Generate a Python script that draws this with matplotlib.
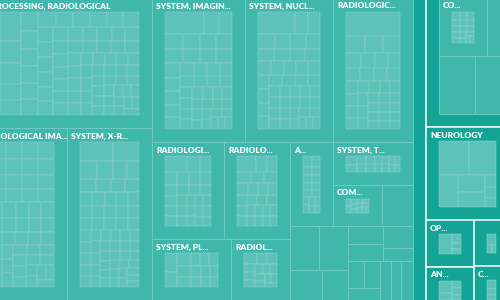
import matplotlib
matplotlib.use("Agg")
import matplotlib.pyplot as plt
from matplotlib.patches import Rectangle

# ---------------- data ----------------
# level-1 groups (only part of the full treemap is visible)
l1_names = ["", "", "NEUROLOGY", "OP...", "AN...", "", "C...", ""]
l1_values = [152327, 14872, 7760, 2232, 2208, 1593, 1645, 3906]

# children of the large radiology group (index 0)
rad_names = ["", "PROCESSING, RADIOLOGICAL", "RADIOLOGICAL IMA...", "SYSTEM, X-R...",
             "SYSTEM, IMAGIN...", "SYSTEM, NUCL...", "RADIOLOGIC...",
             "RADIOLOGI...", "RADIOLO...", "SYSTEM, PL...", "RADIOL...",
             "A...", "SYSTEM, T...", "COM...", "",
             "", "", "", "", "", "", "", "", "", "", "", "", "", ""]
rad_values = [1419, 21285, 15470, 14450, 13299, 12584, 11440, 6912, 6336, 4740, 3540,
              3569, 3360, 2009, 1271, 1247, 1247, 960, 780, 630, 560, 660, 360,
              432, 432, 384, 429, 390, 468]

# children of the group at the top right (index 1)
r1_names = ["CO...", "", "", ""]
r1_values = [2784, 1740, 2088, 2436]

# leaf values inside the labelled nodes
proc_cells = [420, 330, 300, 232, 224, 216, 209, 201, 194, 190, 185, 179, 176, 171, 168,
              165, 161, 158, 156, 153, 150, 148, 146, 143, 140, 138, 136, 133, 131, 129,
              127, 125, 123, 121, 120, 118, 116, 115, 113, 111, 110, 108, 107, 105, 104,
              102, 101, 99, 98, 96, 95, 93, 92, 90, 89, 87, 86, 84, 83, 81,
              80, 78, 77, 75, 74, 72, 71, 69, 68, 66, 65, 64, 63, 62, 61, 60]
radima_cells = [240, 232, 226, 221, 215, 210, 206, 202, 198, 195, 192, 188, 185, 182, 180,
                177, 174, 171, 169, 166, 163, 160, 158, 156, 153, 151, 148, 146, 143, 141,
                139, 137, 134, 132, 130, 128, 126, 124, 122, 120, 118, 116, 114, 112, 110,
                108, 106, 104, 102, 100]
xray_cells = [420, 210, 190, 175, 330, 150, 140, 134, 128, 124, 120, 117, 114, 111, 108,
              106, 104, 102, 100, 98, 96, 94, 92, 91, 89, 88, 86, 85, 83, 82, 80, 79,
              78, 76, 75, 74, 72, 71, 70, 69, 68, 66, 65, 64, 63, 62, 61, 60, 59, 58,
              57, 56, 55, 54, 53, 52, 51, 50, 49, 48]
imagin_cells = [820, 300, 280, 270, 260, 250, 240, 232, 226, 218, 212, 205, 198, 190, 182,
                176, 170, 164, 158, 152, 147, 142, 138, 134, 130, 126, 122, 119, 116, 113,
                110, 107, 104, 101, 98, 96, 94, 92, 90, 88, 86, 84, 82, 80, 78]
nucl_cells = [780, 290, 250, 232, 220, 210, 202, 195, 188, 182, 176, 170, 165, 160, 156,
              152, 148, 144, 140, 137, 134, 131, 128, 125, 122, 120, 118, 116, 114, 112,
              110, 108, 106, 104, 102, 100, 98, 96, 94, 92, 90, 88, 86, 84, 82]
radiologic_cells = [1450, 360, 340, 320, 260, 240, 225, 210, 200, 192, 185, 178, 172, 166,
                    160, 155, 150, 146, 142, 138, 134, 130, 127, 124, 121, 118, 115, 112,
                    110, 108, 105, 102, 100, 97, 95]
radiologi_cells = [330, 190, 170, 160, 152, 146, 140, 134, 128, 124, 120, 116, 112, 108,
                   104, 101, 98, 95, 92, 90, 88, 85, 82, 80, 78, 76]
radiolo_cells = [300, 180, 160, 150, 142, 136, 130, 124, 118, 114, 110, 106, 102, 98, 95,
                 92, 89, 86, 83, 80, 78, 76, 74, 72]
pl_cells = [260, 200, 180, 160, 150, 140, 130, 124, 118, 112, 106, 100, 94, 88]
radiol_cells = [150, 120, 110, 100, 95, 90, 86, 82, 78, 74, 70, 66, 62, 58]
a_cells = [70, 62, 58, 55, 52, 50, 48, 46, 44, 42, 40, 38, 36, 34, 32, 30]
t_cells = [120, 100, 95, 90, 86, 82, 78, 74, 70, 66, 62, 58, 54, 50]
com_cells = [40, 36, 34, 32, 30, 28, 27, 26, 25, 24, 23, 22]
co_cells = [48, 44, 42, 40, 38, 38, 36, 34, 34, 32, 30, 30, 28, 26, 24, 22]
neuro_cells = [990, 864, 580, 442, 416, 132, 120, 96]
op_cells = [260, 70, 60, 40]
an_cells = [150, 90, 60, 60, 40]
u_cells = [90, 40, 30]
c_cells = [80, 50, 40]

# ---------------- style ----------------
DARK = "#14a496"
MID = "#3fb7ab"
LIGHT = "#5dc3ba"
L1_EDGE = "#e8f7f5"
L2_EDGE = "#6fccc3"
CELL_EDGE = "#97d8d1"
FONT = ["Lato", "DejaVu Sans"]
PX = 0.72  # one pixel in points at 100 dpi

# layout structure: ('h' = side by side, 'v' = stacked), leaves are indices
l1_spec = ('h', [0, ('v', [1, ('h', [('v', [2, ('h', [('v', [3, 4]), ('v', [5, 6])])]), 7])])])
rad_spec = ('h', [
    ('v', [('h', [0, 1]), ('h', [2, 3])]),
    ('v', [
        ('h', [4, 5, 6]),
        ('h', [
            ('v', [('h', [7, 8]), ('h', [9, 10])]),
            ('v', [
                ('h', [11, ('v', [12, ('h', [13, 14])])]),
                ('h', [
                    ('v', [('h', [15, 16]), ('h', [17, 18])]),
                    ('v', [
                        ('h', [('v', [19, 20]), ('v', [21, 22])]),
                        ('h', [('v', [('h', [23, 24]), 25]), ('h', [26, 27, 28])]),
                    ]),
                ]),
            ]),
        ]),
    ]),
])
r1_spec = ('v', [('h', [0, 1]), ('h', [2, 3])])

rad_cells = {1: proc_cells, 2: radima_cells, 3: xray_cells, 4: imagin_cells, 5: nucl_cells,
             6: radiologic_cells, 7: radiologi_cells, 8: radiolo_cells, 9: pl_cells,
             10: radiol_cells, 11: a_cells, 12: t_cells, 13: com_cells}
l1_cells = {2: neuro_cells, 3: op_cells, 4: an_cells, 5: u_cells, 6: c_cells}
r1_cells = {0: co_cells}


# ---------------- layout helpers ----------------
def spec_total(spec, values):
    if isinstance(spec, int):
        return values[spec]
    return sum(spec_total(s, values) for s in spec[1])


def slice_layout(spec, values, rect, out):
    if isinstance(spec, int):
        out[spec] = rect
        return
    d, kids = spec
    x, y, w, h = rect
    tot = sum(spec_total(k, values) for k in kids)
    pos = 0.0
    for k in kids:
        f = spec_total(k, values) / tot
        if d == 'h':
            slice_layout(k, values, (x + pos * w, y, f * w, h), out)
        else:
            slice_layout(k, values, (x, y + pos * h, w, f * h), out)
        pos += f


def _layout(sizes, x, y, dx, dy):
    cov = sum(sizes)
    res = []
    if dx >= dy:
        width = cov / dy
        for s in sizes:
            res.append((x, y, width, s / width))
            y += s / width
    else:
        height = cov / dx
        for s in sizes:
            res.append((x, y, s / height, height))
            x += s / height
    return res


def _leftover(sizes, x, y, dx, dy):
    cov = sum(sizes)
    if dx >= dy:
        width = cov / dy
        return x + width, y, dx - width, dy
    height = cov / dx
    return x, y + height, dx, dy - height


def _worst(sizes, x, y, dx, dy):
    return max(max(r[2] / r[3], r[3] / r[2]) for r in _layout(sizes, x, y, dx, dy))


def squarify(sizes, x, y, dx, dy):
    if not sizes:
        return []
    if len(sizes) == 1:
        return _layout(sizes, x, y, dx, dy)
    i = 1
    while i < len(sizes) and _worst(sizes[:i], x, y, dx, dy) >= _worst(sizes[:i + 1], x, y, dx, dy):
        i += 1
    cur, rem = sizes[:i], sizes[i:]
    lx, ly, ldx, ldy = _leftover(cur, x, y, dx, dy)
    return _layout(cur, x, y, dx, dy) + squarify(rem, lx, ly, ldx, ldy)


def content(rect, pad=13, head=14):
    x, y, w, h = rect
    return (x + pad, y + head, w - 2 * pad, h - head - pad)


# ---------------- drawing ----------------
fig = plt.figure(figsize=(5, 3), dpi=100)
fig.patch.set_facecolor(DARK)
ax = fig.add_axes([0, 0, 1, 1])
ax.set_xlim(0, 500)
ax.set_ylim(300, 0)
ax.axis("off")
ax.set_facecolor(DARK)


def rect_patch(r, fc, ec, lw, z):
    ax.add_patch(Rectangle((r[0], r[1]), r[2], r[3], facecolor=fc, edgecolor=ec,
                           linewidth=lw, zorder=z))


def label(r, text):
    if text:
        ax.text(r[0] + 4, r[1] + 8, text, color="white", fontsize=6.0, fontweight="heavy",
                family=FONT, ha="left", va="center", zorder=10, clip_on=True)


def draw_cells(r, cells):
    x, y, w, h = content(r)
    tot = sum(cells)
    sizes = sorted((c * w * h / tot for c in cells), reverse=True)
    for c in squarify(sizes, x, y, w, h):
        rect_patch(c, LIGHT, CELL_EDGE, 0.45 * PX, 4)


root = (-37, -16, 567, 329)
l1_rects = {}
slice_layout(l1_spec, l1_values, root, l1_rects)

for i, r in l1_rects.items():
    rect_patch(r, DARK, L1_EDGE, 1.6 * PX, 1)
    label(r, l1_names[i])
    if i in l1_cells:
        draw_cells(r, l1_cells[i])

# large radiology group children
rad_rects = {}
slice_layout(rad_spec, rad_values, content(l1_rects[0]), rad_rects)
for i, r in rad_rects.items():
    rect_patch(r, MID, L2_EDGE, 0.9 * PX, 2)
    label(r, rad_names[i])
    if i in rad_cells:
        draw_cells(r, rad_cells[i])

# top right group children
r1_rects = {}
slice_layout(r1_spec, r1_values, content(l1_rects[1]), r1_rects)
for i, r in r1_rects.items():
    rect_patch(r, MID, L2_EDGE, 0.9 * PX, 2)
    label(r, r1_names[i])
    if i in r1_cells:
        draw_cells(r, r1_cells[i])

fig.savefig("out.png", dpi=100, facecolor=DARK)
